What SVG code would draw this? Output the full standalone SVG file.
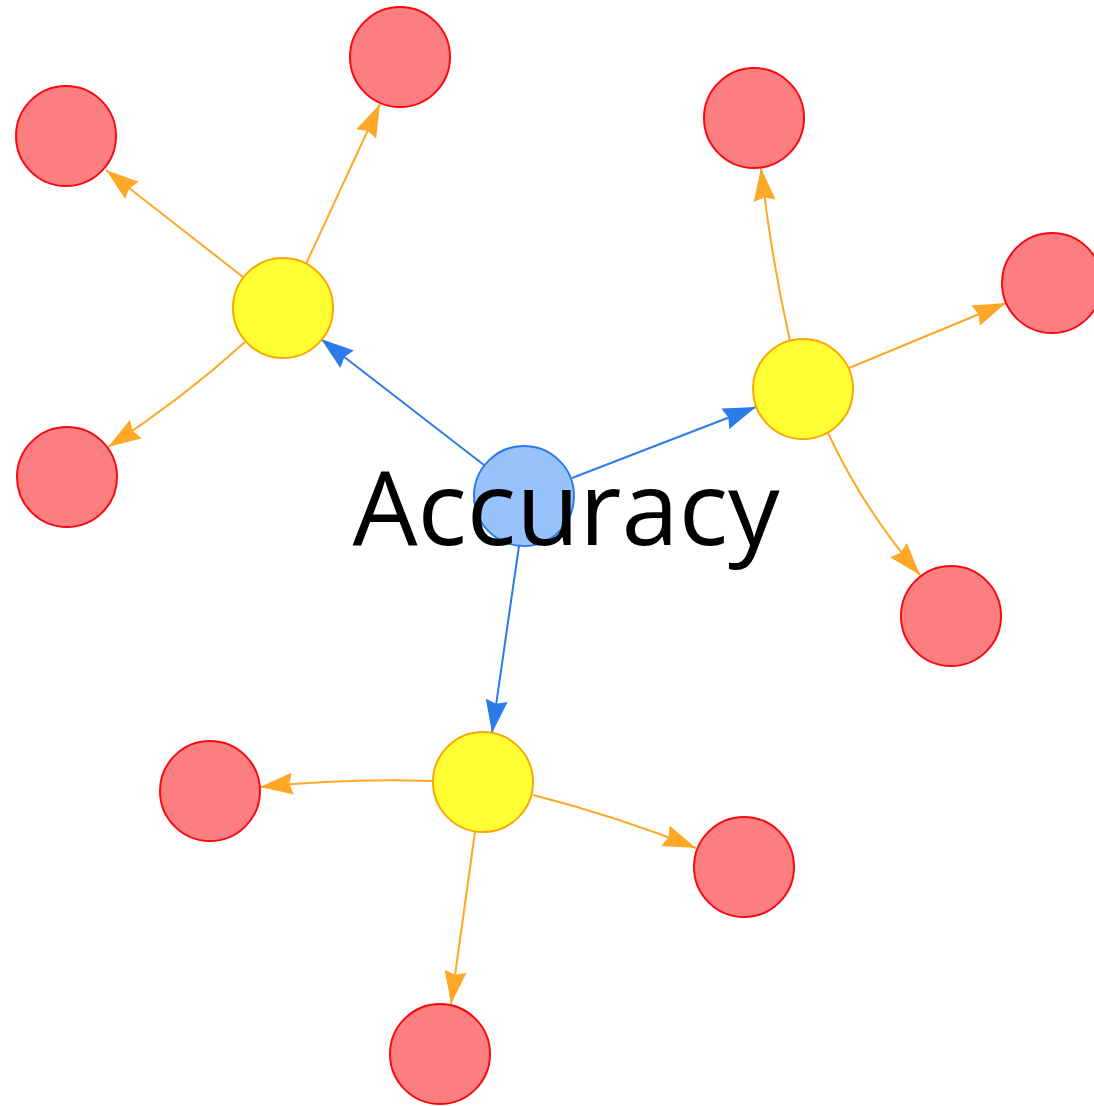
<svg xmlns="http://www.w3.org/2000/svg" width="1094" height="1106" viewBox="0 0 1094 1106">
<style>
.bg{fill:#ffffff}
.hub{fill:#97c2fc;stroke:#2b7ce9;stroke-width:2}
.mid{fill:#ffff33;stroke:#ffa500;stroke-width:2}
.leaf{fill:#fb7e81;stroke:#fa0a10;stroke-width:2}
.eb{fill:none;stroke:#2b7ce9;stroke-width:2;marker-end:url(#ab)}
.eo{fill:none;stroke:#ffa726;stroke-width:2;marker-end:url(#ao)}
.lbl{font-family:"Open Sans","Noto Sans","DejaVu Sans",sans-serif;font-size:103px;fill:#000000;text-anchor:middle}
</style>
<defs>
<marker id="ab" markerUnits="userSpaceOnUse" viewBox="0 0 33 22" markerWidth="33" markerHeight="22" refX="33" refY="11" orient="auto">
<path d="M33,11 L0,0 L3.5,11 L0,22 Z" fill="#2b7ce9"/>
</marker>
<marker id="ao" markerUnits="userSpaceOnUse" viewBox="0 0 33 22" markerWidth="33" markerHeight="22" refX="33" refY="11" orient="auto">
<path d="M33,11 L0,0 L3.5,11 L0,22 Z" fill="#ffa726"/>
</marker>
</defs>
<rect class="bg" x="0" y="0" width="1094" height="1106"/>
<g id="connectors">
<path class="eb" d="M484,465 L321,339"/>
<path class="eb" d="M572,478 L756,407"/>
<path class="eb" d="M519,546 L492,733"/>
<path class="eo" d="M306,264 L380,104"/>
<path class="eo" d="M243,277 L106,170"/>
<path class="eo" d="M245,342 Q181,400 108,447"/>
<path class="eo" d="M790,341 Q771,257 761,168"/>
<path class="eo" d="M849,368 L1006,303"/>
<path class="eo" d="M828,433 Q864,510 920,575"/>
<path class="eo" d="M433,781 Q346,778 260,787"/>
<path class="eo" d="M533,795 Q616,816 696,848"/>
<path class="eo" d="M475,832 L451,1004"/>
</g>
<g id="n-l1"><circle class="leaf" cx="400" cy="57" r="50"/></g>
<g id="n-l2"><circle class="leaf" cx="66" cy="136" r="50"/></g>
<g id="n-l3"><circle class="leaf" cx="67" cy="477" r="50"/></g>
<g id="n-l4"><circle class="leaf" cx="754" cy="118" r="50"/></g>
<g id="n-l5"><circle class="leaf" cx="1052" cy="283" r="50"/></g>
<g id="n-l6"><circle class="leaf" cx="951" cy="616" r="50"/></g>
<g id="n-l7"><circle class="leaf" cx="210" cy="791" r="50"/></g>
<g id="n-l8"><circle class="leaf" cx="744" cy="867" r="50"/></g>
<g id="n-l9"><circle class="leaf" cx="440" cy="1054" r="50"/></g>
<g id="n-y1"><circle class="mid" cx="283" cy="308" r="50"/></g>
<g id="n-y2"><circle class="mid" cx="803" cy="389" r="50"/></g>
<g id="n-y3"><circle class="mid" cx="483" cy="782" r="50"/></g>
<g id="n-hub"><circle class="hub" cx="524" cy="496" r="50"/><text class="lbl" x="566" y="545">Accuracy</text></g>
</svg>
